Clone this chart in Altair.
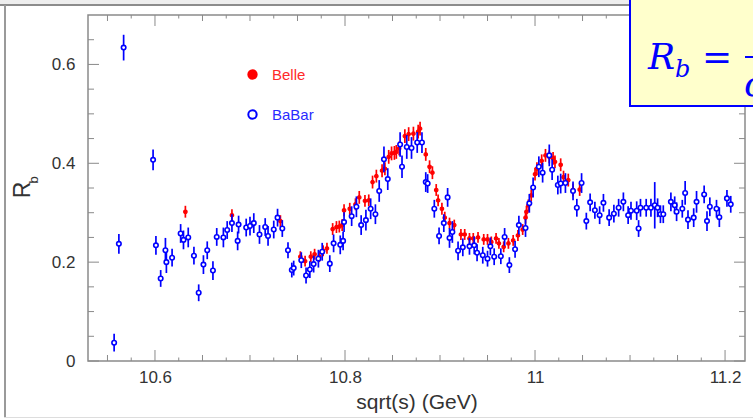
import altair as alt
import pandas as pd

# ---------------- data ----------------
babar_x = [
    10.557, 10.562, 10.567, 10.598, 10.601, 10.606, 10.611, 10.612, 10.618, 10.627,
    10.630, 10.635, 10.641, 10.646, 10.651, 10.655, 10.661, 10.665, 10.672, 10.676,
    10.681, 10.687, 10.688, 10.696, 10.700, 10.704, 10.710, 10.716, 10.719, 10.725,
    10.729, 10.734, 10.740, 10.744, 10.746, 10.754, 10.759, 10.763, 10.767, 10.772,
    10.776, 10.784, 10.788, 10.795, 10.798, 10.799, 10.807, 10.812, 10.817, 10.822,
    10.827, 10.832, 10.836, 10.841, 10.845, 10.858, 10.860, 10.865, 10.870, 10.876,
    10.881, 10.885, 10.887, 10.894, 10.899, 10.904, 10.908, 10.910, 10.913, 10.919,
    10.924, 10.931, 10.936, 10.939, 10.945, 10.950, 10.953, 10.957, 10.964, 10.968,
    10.973, 10.979, 10.983, 10.990, 10.994, 10.998, 11.004, 11.008, 11.015, 11.018,
    11.024, 11.027, 11.032, 11.040, 11.044, 11.049, 11.054, 11.058, 11.063, 11.068,
    11.072, 11.078, 11.083, 11.088, 11.093, 11.098, 11.101, 11.107, 11.109, 11.111,
    11.117, 11.122, 11.126, 11.129, 11.132, 11.135, 11.143, 11.147, 11.149, 11.155,
    11.158, 11.161, 11.167, 11.170, 11.178, 11.181, 11.184, 11.191, 11.194, 11.202, 11.206,
]
babar_y = [
    0.037, 0.237, 0.634, 0.407, 0.234, 0.167, 0.224, 0.200, 0.209, 0.258,
    0.245, 0.250, 0.213, 0.138, 0.195, 0.224, 0.183, 0.251, 0.250, 0.265,
    0.279, 0.243, 0.276, 0.270, 0.273, 0.279, 0.256, 0.271, 0.253, 0.266,
    0.290, 0.268, 0.224, 0.184, 0.188, 0.204, 0.173, 0.185, 0.196, 0.207,
    0.221, 0.197, 0.238, 0.235, 0.243, 0.281, 0.293, 0.312, 0.275, 0.285,
    0.308, 0.297, 0.344, 0.408, 0.368, 0.438, 0.393, 0.433, 0.431, 0.442,
    0.442, 0.362, 0.359, 0.308, 0.253, 0.279, 0.331, 0.249, 0.261, 0.223,
    0.230, 0.232, 0.234, 0.219, 0.214, 0.207, 0.232, 0.211, 0.212, 0.251,
    0.194, 0.226, 0.275, 0.269, 0.319, 0.351, 0.393, 0.381, 0.416, 0.387,
    0.356, 0.359, 0.360, 0.344, 0.310, 0.360, 0.283, 0.321, 0.305, 0.295,
    0.320, 0.290, 0.298, 0.310, 0.322, 0.295, 0.304, 0.304, 0.268, 0.310,
    0.310, 0.310, 0.315, 0.310, 0.297, 0.297, 0.322, 0.315, 0.302, 0.308,
    0.340, 0.286, 0.290, 0.322, 0.337, 0.283, 0.312, 0.308, 0.291, 0.329, 0.317,
]
babar_err = [
    0.018, 0.020, 0.026, 0.021, 0.019, 0.017, 0.025, 0.022, 0.018, 0.019,
    0.019, 0.020, 0.018, 0.017, 0.019, 0.018, 0.019, 0.018, 0.020, 0.018,
    0.018, 0.019, 0.018, 0.018, 0.019, 0.020, 0.019, 0.018, 0.020, 0.018,
    0.018, 0.017, 0.016, 0.015, 0.015, 0.016, 0.016, 0.017, 0.017, 0.018,
    0.018, 0.017, 0.018, 0.019, 0.019, 0.020, 0.020, 0.021, 0.020, 0.021,
    0.021, 0.020, 0.022, 0.026, 0.022, 0.025, 0.023, 0.024, 0.022, 0.021,
    0.021, 0.020, 0.019, 0.018, 0.017, 0.018, 0.019, 0.020, 0.022, 0.019,
    0.018, 0.017, 0.018, 0.017, 0.017, 0.016, 0.018, 0.017, 0.016, 0.018,
    0.016, 0.017, 0.019, 0.018, 0.019, 0.020, 0.021, 0.020, 0.022, 0.021,
    0.019, 0.020, 0.020, 0.019, 0.018, 0.020, 0.017, 0.018, 0.017, 0.018,
    0.018, 0.017, 0.018, 0.018, 0.019, 0.018, 0.018, 0.019, 0.017, 0.018,
    0.018, 0.018, 0.047, 0.019, 0.018, 0.018, 0.019, 0.018, 0.019, 0.018,
    0.024, 0.019, 0.019, 0.022, 0.018, 0.020, 0.019, 0.018, 0.020, 0.017, 0.017,
]

belle_x = [
    10.632, 10.681, 10.732, 10.753, 10.758, 10.764, 10.768, 10.773, 10.777, 10.781,
    10.787, 10.791, 10.794, 10.797, 10.799, 10.805, 10.811, 10.815, 10.821, 10.825,
    10.829, 10.833, 10.839, 10.842, 10.846, 10.849, 10.852, 10.854, 10.857, 10.863,
    10.867, 10.872, 10.877, 10.879, 10.885, 10.889, 10.892, 10.896, 10.898, 10.902,
    10.905, 10.910, 10.915, 10.922, 10.926, 10.931, 10.935, 10.940, 10.946, 10.950,
    10.954, 10.959, 10.962, 10.967, 10.972, 10.977, 10.982, 10.987, 10.990, 10.991,
    10.993, 10.996, 11.000, 11.002, 11.007, 11.011, 11.015, 11.019, 11.021, 11.027,
    11.030, 11.035, 11.040, 11.047,
]
belle_y = [
    0.302, 0.295, 0.283, 0.211, 0.202, 0.211, 0.216, 0.211, 0.223, 0.228,
    0.267, 0.271, 0.272, 0.275, 0.305, 0.308, 0.317, 0.331, 0.324, 0.325,
    0.362, 0.374, 0.385, 0.389, 0.413, 0.420, 0.421, 0.423, 0.430, 0.455,
    0.459, 0.460, 0.464, 0.470, 0.418, 0.393, 0.381, 0.346, 0.325, 0.308,
    0.290, 0.279, 0.275, 0.256, 0.256, 0.248, 0.248, 0.250, 0.246, 0.246,
    0.241, 0.248, 0.238, 0.231, 0.238, 0.244, 0.254, 0.266, 0.290, 0.302,
    0.315, 0.335, 0.378, 0.389, 0.405, 0.416, 0.413, 0.410, 0.403, 0.397,
    0.372, 0.366, 0.346, 0.347,
]
belle_err = [
    0.012, 0.012, 0.012, 0.011, 0.011, 0.011, 0.011, 0.011, 0.011, 0.011,
    0.012, 0.012, 0.012, 0.012, 0.012, 0.012, 0.012, 0.013, 0.012, 0.012,
    0.013, 0.013, 0.013, 0.013, 0.014, 0.014, 0.014, 0.014, 0.014, 0.014,
    0.014, 0.014, 0.014, 0.014, 0.013, 0.013, 0.013, 0.012, 0.012, 0.012,
    0.012, 0.011, 0.011, 0.011, 0.011, 0.011, 0.011, 0.011, 0.011, 0.011,
    0.011, 0.011, 0.011, 0.011, 0.011, 0.011, 0.011, 0.011, 0.012, 0.012,
    0.012, 0.012, 0.013, 0.013, 0.013, 0.013, 0.013, 0.013, 0.013, 0.013,
    0.013, 0.013, 0.013, 0.013,
]

experiments = ["Belle", "BaBar"]

x_major = [10.6, 10.8, 11.0, 11.2]
x_medium = [10.55, 10.65, 10.7, 10.75, 10.85, 10.9, 10.95, 11.05, 11.1, 11.15]
x_short = [10.575, 10.625, 10.675, 10.725, 10.775, 10.825, 10.875, 10.925,
           10.975, 11.025, 11.075, 11.125, 11.175]
y_major = [0.0, 0.2, 0.4, 0.6]
y_minor = [0.05, 0.1, 0.15, 0.25, 0.3, 0.35, 0.45, 0.5, 0.55, 0.65]

x_title = "sqrt(s) (GeV)"
y_title_main = "R"
y_title_sub = "b"

# ---------------- layout ----------------
W, H = 657, 346          # plot area
PL, PT = 88, 15          # plot origin in the page
x_domain = [10.5295, 11.221]
y_domain = [0.0, 0.7]

FRAME = "#8a8a8a"
TXT = "#333333"
RED = "#ff0000"
BLUE = "#0000ff"
FONT = "Liberation Sans"

xs = alt.Scale(domain=x_domain, nice=False, zero=False)
ys = alt.Scale(domain=y_domain, nice=False, zero=False)

x_axis = alt.Axis(values=x_major, format="~g", ticks=False, domain=False, grid=False,
                  labelFont=FONT, labelFontSize=17, labelColor=TXT, labelPadding=8,
                  labelFlush=False, labelOverlap=False,
                  title=x_title, titleFont=FONT, titleFontSize=21, titleFontWeight="normal",
                  titleColor=TXT, titleBaseline="alphabetic", titleY=47)
y_axis = alt.Axis(values=y_major, format="~g", ticks=False, domain=False, grid=False,
                  labelFont=FONT, labelFontSize=17, labelColor=TXT, labelPadding=13,
                  labelFlush=False, labelOverlap=False, title=None)

X = alt.X("x:Q", scale=xs, axis=x_axis)
Y = alt.Y("y:Q", scale=ys, axis=y_axis)

babar = pd.DataFrame({"x": babar_x, "y": babar_y, "e": babar_err})
babar["lo"] = babar["y"] - babar["e"]
babar["hi"] = babar["y"] + babar["e"]
babar["exp"] = "BaBar"
belle = pd.DataFrame({"x": belle_x, "y": belle_y, "e": belle_err})
belle["lo"] = belle["y"] - belle["e"]
belle["hi"] = belle["y"] + belle["e"]
belle["exp"] = "Belle"

one = pd.DataFrame({"k": [0]})

def box(x1, x2, y1, y2, **kw):
    # decoration in page pixels -> plot-relative pixels
    return alt.Chart(one).mark_rect(**kw).encode(
        x=alt.value(x1 - PL), x2=alt.value(x2 - PL),
        y=alt.value(y1 - PT), y2=alt.value(y2 - PT))

def label(txt, x, y, **kw):
    return alt.Chart(one).mark_text(text=txt, **kw).encode(
        x=alt.value(x - PL), y=alt.value(y - PT))

# slide frame
deco = [
    box(0, 753, 0, 4, fill="#eeeeee"),
    box(0, 753, 4, 6, fill="#8c8c8c"),
    box(4, 6, 5, 417, fill="#9a9a9a"),
    box(4, 753, 417, 418, fill="#dddddd"),
]

# ticks drawn inward on all four sides
def xticks(vals, ln):
    d = pd.DataFrame({"x": vals})
    b = alt.Chart(d).mark_rule(color=FRAME, strokeWidth=1).encode(
        x=X, y=alt.value(H), y2=alt.value(H - ln))
    t = alt.Chart(d).mark_rule(color=FRAME, strokeWidth=1).encode(
        x=X, y=alt.value(0), y2=alt.value(ln))
    return [b, t]

def yticks(vals, ln):
    d = pd.DataFrame({"y": vals})
    l = alt.Chart(d).mark_rule(color=FRAME, strokeWidth=1).encode(
        y=Y, x=alt.value(0), x2=alt.value(ln))
    r = alt.Chart(d).mark_rule(color=FRAME, strokeWidth=1).encode(
        y=Y, x=alt.value(W), x2=alt.value(W - ln))
    return [l, r]

ticks = xticks(x_major, 11) + xticks(x_medium, 6) + xticks(x_short, 3.5) \
    + yticks(y_major, 11) + yticks(y_minor, 6)

stroke_scale = alt.Scale(domain=experiments, range=[RED, BLUE])
fill_scale = alt.Scale(domain=experiments, range=[RED, "#ffffff"])
leg = alt.Legend(title=None, orient="none", legendX=157, legendY=52, padding=0,
                 symbolType="circle", symbolSize=70, symbolStrokeWidth=2,
                 labelFont=FONT, labelFontSize=15, labelOffset=12, rowPadding=23,
                 labelColor=alt.ExprRef(expr="datum.value === 'Belle' ? '#ff2a2a' : '#2a2aff'"))

belle_bars = alt.Chart(belle).mark_rule(color=RED, strokeWidth=1.7).encode(
    x=X, y=alt.Y("lo:Q", scale=ys, axis=y_axis), y2="hi:Q")
belle_pts = alt.Chart(belle).mark_point(shape="circle", filled=True, size=12,
                                        strokeWidth=1.2, opacity=1).encode(
    x=X, y=Y,
    stroke=alt.Stroke("exp:N", scale=stroke_scale, legend=leg),
    fill=alt.Fill("exp:N", scale=fill_scale, legend=leg))
babar_bars = alt.Chart(babar).mark_rule(color=BLUE, strokeWidth=1.7).encode(
    x=X, y=alt.Y("lo:Q", scale=ys, axis=y_axis), y2="hi:Q")
babar_pts = alt.Chart(babar).mark_point(shape="circle", filled=True, size=20,
                                        strokeWidth=1.6, opacity=1).encode(
    x=X, y=Y,
    stroke=alt.Stroke("exp:N", scale=stroke_scale, legend=leg),
    fill=alt.Fill("exp:N", scale=fill_scale, legend=leg))

# y-axis title R_b
ytitle = [
    label(y_title_main, 30, 190, angle=270, align="center", baseline="alphabetic",
          font=FONT, fontSize=23, color=TXT),
    label(y_title_sub, 37.5, 180, angle=270, align="center", baseline="alphabetic",
          font=FONT, fontSize=13, color=TXT),
]

# formula box (cut at the page edge, as in the source slide)
SERIF = "DejaVu Serif"
formula = [
    box(630, 790, -5, 106, fill="#ffffcc", stroke=BLUE, strokeWidth=2),
    label("R", 648, 69, align="left", baseline="alphabetic", font=SERIF,
          fontStyle="italic", fontSize=36, color=BLUE),
    label("b", 675, 77, align="left", baseline="alphabetic", font=SERIF,
          fontStyle="italic", fontSize=24, color=BLUE),
    label("=", 702, 69, align="left", baseline="alphabetic", font=SERIF,
          fontSize=36, color=BLUE),
    box(745, 1000, 56, 58, fill=BLUE),
    label("σ", 744, 96, align="left", baseline="alphabetic", font=SERIF,
          fontStyle="italic", fontSize=36, color=BLUE),
]

chart = alt.layer(
    *deco, *ticks, belle_bars, belle_pts, babar_bars, babar_pts, *ytitle, *formula
).properties(
    width=W, height=H,
    autosize=alt.AutoSizeParams(type="none"),
    padding={"left": PL, "top": PT, "right": 753 - PL - W, "bottom": 419 - PT - H},
    background="white",
).configure_view(stroke=FRAME, strokeWidth=1.5)

chart.save("out.html", embed_options={"renderer": "svg", "actions": False})
